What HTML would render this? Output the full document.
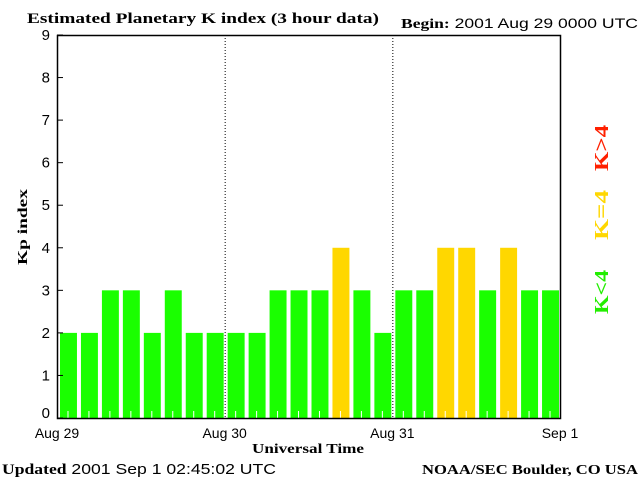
<!DOCTYPE html>
<html><head><meta charset="utf-8"><style>
body{margin:0;background:#fff}
svg{display:block}
text{font-family:"Liberation Sans",sans-serif}
.serif{font-family:"Liberation Serif",serif;font-weight:bold}
</style></head><body>
<svg id="chart" width="640" height="480" xmlns="http://www.w3.org/2000/svg">
<text class="serif" x="27" y="23" font-size="15" textLength="352" lengthAdjust="spacingAndGlyphs">Estimated Planetary K index (3 hour data)</text>
<text x="401" y="28" font-size="14" textLength="237" lengthAdjust="spacingAndGlyphs"><tspan class="serif">Begin:</tspan>  2001 Aug 29 0000 UTC</text>
<g id="bars"></g>
<g id="axes"></g>
<text class="serif" x="308" y="453" font-size="14" text-anchor="middle" textLength="112" lengthAdjust="spacingAndGlyphs">Universal Time</text>
<text class="serif" x="0" y="0" font-size="14" text-anchor="middle" textLength="76" lengthAdjust="spacingAndGlyphs" transform="translate(27,227) rotate(-90)">Kp index</text>
<text x="2" y="474" font-size="15" textLength="274" lengthAdjust="spacingAndGlyphs"><tspan class="serif">Updated</tspan> 2001 Sep  1 02:45:02 UTC</text>
<text class="serif" x="638" y="474" font-size="14" text-anchor="end" textLength="216" lengthAdjust="spacingAndGlyphs">NOAA/SEC Boulder, CO USA</text>
<text class="serif" x="0" y="0" font-size="20" font-weight="normal" fill="#ff2000" text-anchor="middle" textLength="46" lengthAdjust="spacingAndGlyphs" transform="translate(608,148) rotate(-90)">K&gt;4</text>
<text class="serif" x="0" y="0" font-size="20" font-weight="normal" fill="#ffd700" text-anchor="middle" textLength="50" lengthAdjust="spacingAndGlyphs" transform="translate(608,215) rotate(-90)">K=4</text>
<text class="serif" x="0" y="0" font-size="20" font-weight="normal" fill="#22ee00" text-anchor="middle" textLength="44" lengthAdjust="spacingAndGlyphs" transform="translate(608,292) rotate(-90)">K&lt;4</text>
</svg>
<script>
const kpValues=[2,2,3,3,2,3,2,2, 2,2,3,3,3,4,3,2, 3,3,4,4,3,4,3,3];
const yTicks=[0,1,2,3,4,5,6,7,8,9];
const dayLabels=["Aug 29","Aug 30","Aug 31","Sep 1"];
const NS="http://www.w3.org/2000/svg";
const L=57,R=560,T=35,B=418;
const slot=(R-L)/kpValues.length;
const xs=i=>L+i*slot;
const ys=v=>B-v*(B-T)/9;
function mk(tag,at,parent){const e=document.createElementNS(NS,tag);for(const k in at)e.setAttribute(k,at[k]);parent.appendChild(e);return e;}
const bars=document.getElementById('bars'),axes=document.getElementById('axes');
kpValues.forEach((v,i)=>{
 const col=v>4?'#ff2000':(v==4?'#ffd700':'#1aff00');
 const r=mk('rect',{x:xs(i)+3,y:ys(v),width:slot-4,height:B-ys(v),fill:col},bars);
 
 
 const t=mk('line',{x1:xs(i)+slot/2+0.5,x2:xs(i)+slot/2+0.5,y1:B-7,y2:B,stroke:'#fff','stroke-width':1},bars);
 
 
});
const box=mk('rect',{x:L+0.5,y:T+0.5,width:R-L,height:B-T,fill:'none',stroke:'#000','stroke-width':1.5},axes);


yTicks.forEach(v=>{
 const tk=mk('line',{x1:L,x2:L+6,y1:ys(v),y2:ys(v),stroke:'#000'},axes);
 
 
 const lb=mk('text',{x:L-7,y:ys(v)+(v==9?5:v==0?0:5),'font-size':15,'text-anchor':'end'},axes);
 lb.textContent=v;
 
 
});
dayLabels.forEach((d,i)=>{
 const x=L+i*(R-L)/3;
 if(i>0&&i<3){
  const dl=mk('line',{x1:x+0.5,x2:x+0.5,y1:T,y2:B,stroke:'#000','stroke-dasharray':'1,2'},axes);
  
  
 }
 const lb=mk('text',{x:x,y:438,'font-size':14,'text-anchor':'middle'},axes);
 lb.textContent=d;
 
 
});
</script>
</body></html>
